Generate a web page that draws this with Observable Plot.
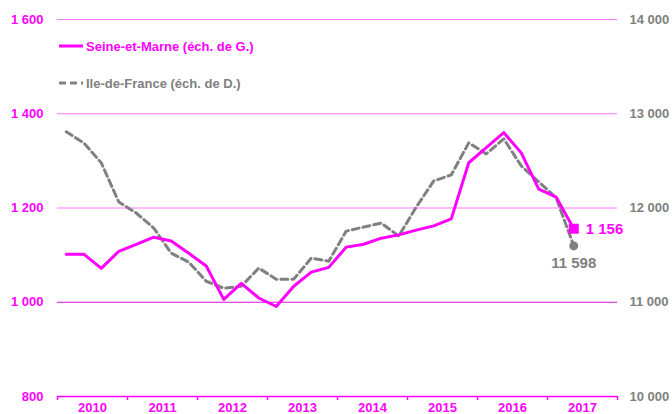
<!DOCTYPE html>
<html>
<head>
<meta charset="utf-8">
<script src="https://cdn.jsdelivr.net/npm/d3@7"></script>
<script src="https://cdn.jsdelivr.net/npm/@observablehq/plot@0.6"></script>
<style>
  html, body { margin: 0; padding: 0; background: #fff; }
  svg { font-family: "Liberation Sans", Arial, sans-serif; }
</style>
</head>
<body>
<div id="chart"></div>
<script>
// Quarterly periods 2010 T1 .. 2017 T2
const years = [2010, 2011, 2012, 2013, 2014, 2015, 2016, 2017];
const quarters = [];
for (const y of years) for (let q = 1; q <= 4; q++) if (!(y === 2017 && q > 2)) quarters.push({year: y, q});

// Seine-et-Marne (left scale)
const seineEtMarne = [1102, 1102, 1072, 1108, 1123, 1138, 1130, 1104,
                      1077, 1006, 1040, 1009, 991, 1034, 1064, 1074,
                      1117, 1123, 1136, 1143, 1153, 1162, 1177, 1296,
                      1328, 1360, 1317, 1240, 1223, 1156];
// Ile-de-France (right scale)
const ileDeFrance = [12809, 12691, 12479, 12064, 11947, 11787, 11521, 11426,
                     11223, 11149, 11170, 11362, 11245, 11245, 11468, 11436,
                     11755, 11798, 11840, 11702, 12010, 12287, 12351, 12691,
                     12574, 12734, 12447, 12277, 12106, 11598];

const leftTicks = [800, 1000, 1200, 1400, 1600];
const rightTicks = [10000, 11000, 12000, 13000, 14000];
const gridLight = [1200, 1400, 1600];
const gridDark = [1000];

const MAGENTA = "#ff00ff";
const GRAY = "#808080";

// map right scale onto left scale
const toLeft = v => 800 + (v - 10000) * 0.2;
const toRight = v => (v - 800) * 5 + 10000;
const fmt = v => d3.format(",")(Math.round(v)).replace(/,/g, " ");

const xOf = d => d.year + (d.q - 0.5) / 4;
const sm = quarters.map((d, i) => ({x: xOf(d), y: seineEtMarne[i], v: seineEtMarne[i]}));
const idf = quarters.map((d, i) => ({x: xOf(d), y: toLeft(ileDeFrance[i]), v: ileDeFrance[i]}));
const smLast = sm[sm.length - 1];
const idfLast = idf[idf.length - 1];

const boundaries = [...years, 2018];
const mids = years.map(y => y + 0.5);

const chart = Plot.plot({
  width: 672,
  height: 414,
  marginLeft: 57,
  marginRight: 55,
  marginTop: 19,
  marginBottom: 18,
  style: {fontFamily: "'Liberation Sans', Arial, sans-serif", fontSize: "13px", fontWeight: "bold", background: "#fff"},
  x: {domain: [2010, 2018], label: null},
  y: {domain: [800, 1600], label: null},
  marks: [
    Plot.ruleY(gridLight, {stroke: "#ff77ff", strokeWidth: 1}),
    Plot.ruleY(gridDark, {stroke: "#dd11dd", strokeWidth: 1.2}),
    Plot.ruleY([800], {stroke: MAGENTA, strokeWidth: 1.5}),
    Plot.axisX({ticks: boundaries, tickSize: 4, tickFormat: () => "", stroke: MAGENTA, strokeWidth: 1.5, label: null}),
    Plot.axisX({ticks: mids, tickSize: 0, tickPadding: 6, tickFormat: d => String(Math.floor(d)), fill: MAGENTA, fontSize: 13, fontWeight: "bold", label: null}),
    Plot.axisY({anchor: "left", ticks: leftTicks, tickSize: 0, tickPadding: 14, tickFormat: fmt, fill: MAGENTA, fontSize: 13, fontWeight: "bold", label: null}),
    Plot.axisY({anchor: "right", ticks: rightTicks.map(toLeft), tickSize: 0, tickPadding: 12, tickFormat: d => fmt(toRight(d)), fill: GRAY, fontSize: 13, fontWeight: "bold", label: null}),
    Plot.line(idf, {x: "x", y: "y", stroke: GRAY, strokeWidth: 3, strokeDasharray: "7,4"}),
    Plot.line(sm, {x: "x", y: "y", stroke: MAGENTA, strokeWidth: 3}),
    Plot.dot([idfLast], {x: "x", y: "y", r: 4.5, fill: GRAY}),
    Plot.dot([smLast], {x: "x", y: "y", r: 5.64, symbol: "square", fill: MAGENTA}),
    Plot.text([smLast], {x: "x", y: "y", text: d => fmt(d.v), dx: 12, textAnchor: "start", fill: MAGENTA, fontSize: 15, fontWeight: "bold"}),
    Plot.text([idfLast], {x: "x", y: "y", text: d => fmt(d.v), dy: 17, textAnchor: "middle", fill: GRAY, fontSize: 15, fontWeight: "bold"})
  ]
});

document.getElementById("chart").appendChild(chart);

// Legend (inside plot area, top-left)
const svg = d3.select(chart);
const lg = svg.append("g")
  .attr("font-family", "'Liberation Sans', Arial, sans-serif")
  .attr("font-weight", "bold")
  .attr("font-size", 13)
  .attr("text-anchor", "start");
const items = [
  {label: "Seine-et-Marne (éch. de G.)", color: MAGENTA, dash: null, y: 46},
  {label: "Ile-de-France (éch. de D.)", color: GRAY, dash: "7,4", y: 83}
];
items.forEach(it => {
  lg.append("line").attr("x1", 59).attr("x2", 83).attr("y1", it.y).attr("y2", it.y)
    .attr("stroke", it.color).attr("stroke-width", 3).attr("stroke-dasharray", it.dash);
  lg.append("text").attr("x", 86).attr("y", it.y).attr("dy", "0.35em")
    .attr("text-anchor", "start").attr("fill", it.color).text(it.label);
});
</script>
</body>
</html>
